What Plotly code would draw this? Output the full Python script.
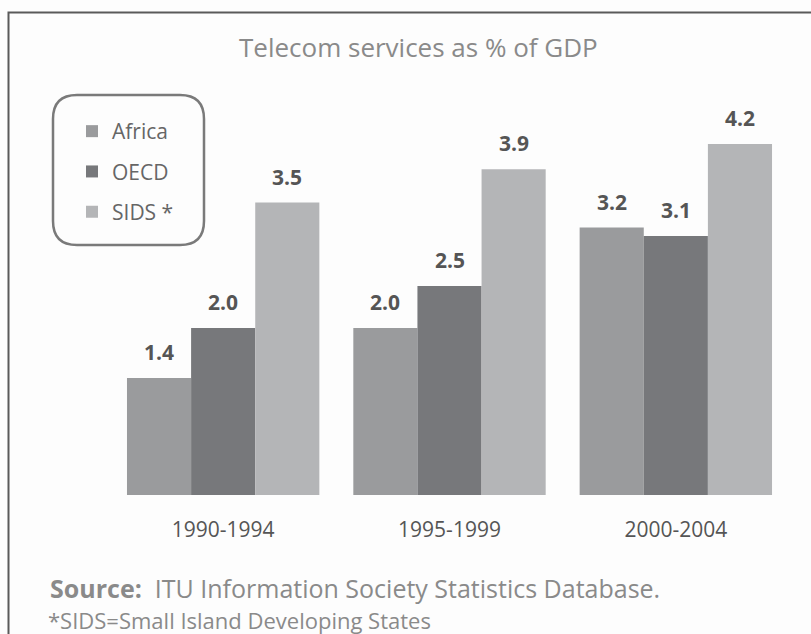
import plotly.graph_objects as go

periods = ["1990-1994", "1995-1999", "2000-2004"]
africa = [1.4, 2.0, 3.2]
oecd = [2.0, 2.5, 3.1]
sids = [3.5, 3.9, 4.2]

series = [("Africa", africa, "#9a9b9d"), ("OECD", oecd, "#77787b"), ("SIDS *", sids, "#b4b5b7")]

W, H = 811, 634
L, R, T, B = 110, 22, 119, 139
FONT = "Open Sans"


def px(x):
    return (x - L) / (W - L - R)


def py(y):
    return (H - B - y) / (H - T - B)


fig = go.Figure()
for name, vals, color in series:
    fig.add_trace(go.Bar(x=periods, y=vals, name=name, legendgroup=name,
                         marker=dict(color=color, line=dict(width=0))))

# value labels above bars
bar_px = (W - L - R) / 3 * 0.85 / 3
for i, (name, vals, color) in enumerate(series):
    for p, v in zip(periods, vals):
        fig.add_annotation(x=p, y=v, text=f"{v:.1f}", showarrow=False, xshift=(i - 1) * bar_px,
                           yanchor="bottom", yshift=10,
                           font=dict(family=FONT, size=21, color="#555555", weight="bold"))

# rounded legend box
bx0, by0, bx1, by1, rr = 53, 95, 204, 245, 24
fig.add_shape(type="path", xref="paper", yref="paper",
              path=(f"M {px(bx0 + rr)},{py(by0)} L {px(bx1 - rr)},{py(by0)} "
                    f"Q {px(bx1)},{py(by0)} {px(bx1)},{py(by0 + rr)} "
                    f"L {px(bx1)},{py(by1 - rr)} Q {px(bx1)},{py(by1)} {px(bx1 - rr)},{py(by1)} "
                    f"L {px(bx0 + rr)},{py(by1)} Q {px(bx0)},{py(by1)} {px(bx0)},{py(by1 - rr)} "
                    f"L {px(bx0)},{py(by0 + rr)} Q {px(bx0)},{py(by0)} {px(bx0 + rr)},{py(by0)} Z"),
              line=dict(color="#7a7a7a", width=2.5))

# outer frame
fig.add_shape(type="rect", xref="paper", yref="paper", x0=px(8.5), y0=py(12.5), x1=px(830), y1=py(660),
              line=dict(color="#5a5a5a", width=2))

fig.add_annotation(xref="paper", yref="paper", x=px(418), y=py(47), yanchor="middle",
                   text="Telecom services as % of GDP",
                   showarrow=False, font=dict(family=FONT, size=26, color="#8a8a8a"))
fig.add_annotation(xref="paper", yref="paper", x=px(48), y=py(588), xanchor="left", yanchor="middle",
                   text="<b>Source:</b>  ITU Information Society Statistics Database.",
                   showarrow=False, font=dict(family=FONT, size=25, color="#8a8a8a"))
fig.add_annotation(xref="paper", yref="paper", x=px(46), y=py(620), xanchor="left", yanchor="middle",
                   text="*SIDS=Small Island Developing States",
                   showarrow=False, font=dict(family=FONT, size=22, color="#8a8a8a"))

fig.update_layout(
    width=W, height=H,
    margin=dict(l=L, r=R, t=T, b=B),
    paper_bgcolor="#fdfdfd", plot_bgcolor="#fdfdfd",
    barmode="group", bargap=0.15, bargroupgap=0,
    showlegend=True,
    legend=dict(x=px(72), y=py(111), xanchor="left", yanchor="top", bgcolor="rgba(0,0,0,0)",
                font=dict(family=FONT, size=21, color="#666666"), tracegroupgap=10,
                itemwidth=30, itemsizing="constant"),
    xaxis=dict(showline=False, showgrid=False, ticks="", tickfont=dict(family=FONT, size=21, color="#555555"),
               ticklabelstandoff=20),
    yaxis=dict(range=[0, 4.5], visible=False),
)

fig.write_html("out.html", config={"displayModeBar": False},
               post_script="document.body.style.margin='0';")
